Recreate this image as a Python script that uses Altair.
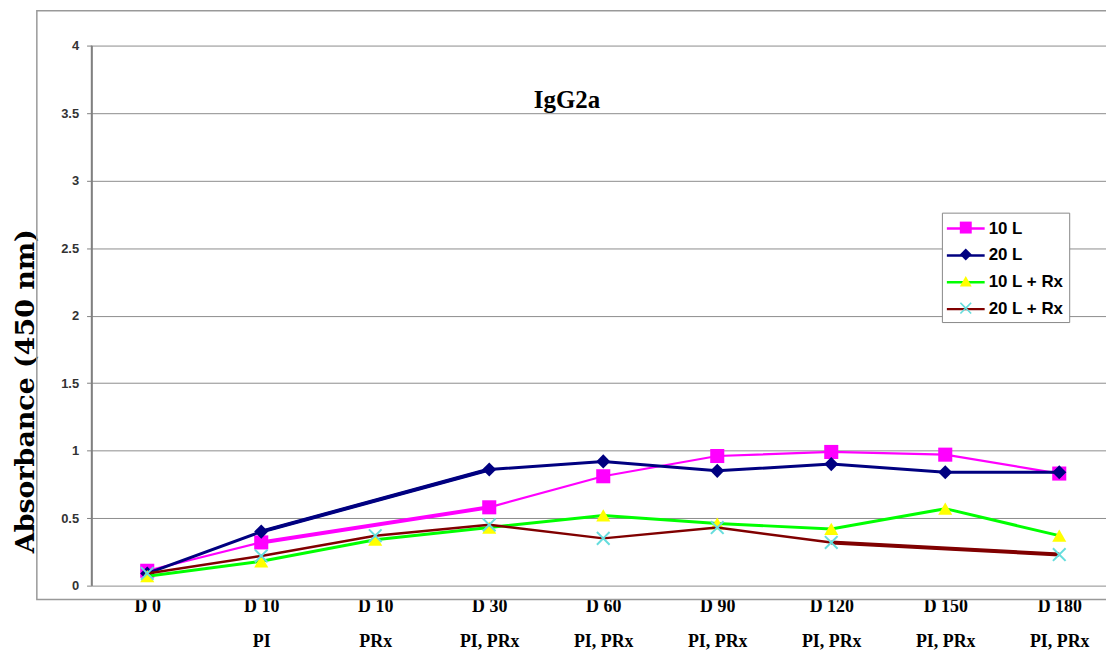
import altair as alt
import pandas as pd

# ---------------- data ----------------
categories = ["D 0|", "D 10|PI", "D 10|PRx", "D 30|PI, PRx", "D 60|PI, PRx",
              "D 90|PI, PRx", "D 120|PI, PRx", "D 150|PI, PRx", "D 180|PI, PRx"]
series_names = ["10 L", "20 L", "10 L + Rx", "20 L + Rx"]
values_10L = [0.11, 0.32, None, 0.58, 0.81, 0.96, 0.99, 0.97, 0.83]
values_20L = [0.09, 0.40, None, 0.86, 0.92, 0.85, 0.90, 0.84, 0.84]
values_10LRx = [0.07, 0.18, 0.34, 0.43, 0.52, 0.46, 0.42, 0.57, 0.37]
values_20LRx = [0.09, 0.22, 0.37, 0.45, 0.35, 0.43, 0.32, None, 0.23]
series_values = [values_10L, values_20L, values_10LRx, values_20LRx]
y_ticks = [0, 0.5, 1, 1.5, 2, 2.5, 3, 3.5, 4]
chart_label = "IgG2a"
y_title = "Absorbance (450 nm)"

# ---------------- styles ----------------
line_colors = ["#FF00FF", "#000080", "#00FF00", "#800000"]
marker_colors = ["#FF00FF", "#000080", "#FFFF00", "#66DDDD"]
line_widths = [2.2, 3.0, 3.0, 2.5]
bridge_width = 4.0
X_PATH = ("M-1,-0.8L-0.8,-1L0,-0.2L0.8,-1L1,-0.8L0.2,0L1,0.8L0.8,1"
          "L0,0.2L-0.8,1L-1,0.8L-0.2,0Z")
marker_shapes = ["square", "diamond", "triangle-up", X_PATH]
marker_keys = ["m " + s for s in series_names]

rows, bridge_rows = [], []
for name, key, vals in zip(series_names, marker_keys, series_values):
    idx = [i for i, v in enumerate(vals) if v is not None]
    for i in idx:
        rows.append({"cat": categories[i], "idx": i, "series": name,
                     "marker": key, "value": vals[i]})
    for a, b in zip(idx, idx[1:]):
        if b - a > 1:
            for k in (a, b):
                bridge_rows.append({"cat": categories[k], "idx": k, "series": name,
                                    "value": vals[k], "seg": f"{name}-{a}"})
df = pd.DataFrame(rows)
bdf = pd.DataFrame(bridge_rows)

W, H = 1020, 543

x_enc = alt.X("cat:N",
              scale=alt.Scale(type="point", domain=categories, padding=0.4493, align=0.5437),
              axis=alt.Axis(title=None, domain=False, ticks=False, grid=False,
                            labelExpr="split(datum.label, '|')",
                            labelFont="Liberation Serif", labelFontWeight="bold",
                            labelFontSize=18, labelLineHeight=35, labelBaseline="top",
                            labelPadding=12, labelAngle=0, labelColor="black",
                            labelOverlap=False, labelFlush=False, labelBound=False))
y_enc = alt.Y("value:Q",
              scale=alt.Scale(domain=[0, 4], nice=False, zero=True),
              axis=alt.Axis(values=y_ticks, format="~g", title=y_title,
                            titleFont="DejaVu Serif", titleFontSize=27,
                            titleFontWeight="bold", titleColor="black",
                            titleAngle=270, titleX=-66, titleY=347,
                            titleAlign="center", titleBaseline="middle",
                            grid=True, gridColor="#8c8c8c", gridWidth=1,
                            domain=True, domainColor="#808080", domainWidth=1.5,
                            tickColor="#808080", tickSize=5, tickWidth=1,
                            labelFont="Liberation Sans", labelFontWeight="bold",
                            labelFontSize=13, labelColor="#333333", labelPadding=8))

line_legend = alt.Legend(title=None, orient="none", legendX=855, legendY=168,
                         symbolType="M-2,0H2", symbolSize=361, symbolStrokeWidth=2.5,
                         symbolOffset=8, labelOffset=12,
                         labelFont="Liberation Sans", labelFontWeight="bold",
                         labelFontSize=17, labelColor="black", labelLimit=300,
                         rowPadding=8, padding=5,
                         strokeColor="#888888", fillColor="white")
marker_legend = alt.Legend(title=None, orient="none", legendX=855, legendY=170,
                           symbolSize=144, symbolStrokeWidth=0, symbolOffset=11,
                           labelExpr="''", labelFontSize=16, labelLimit=300,
                           rowPadding=11, padding=5)

color_enc = alt.Color("series:N", scale=alt.Scale(domain=series_names, range=line_colors),
                      legend=line_legend)
fill_enc = alt.Fill("marker:N", scale=alt.Scale(domain=marker_keys, range=marker_colors),
                    legend=marker_legend)
shape_enc = alt.Shape("marker:N", scale=alt.Scale(domain=marker_keys, range=marker_shapes),
                      legend=marker_legend)

one = pd.DataFrame({"f": [0]})
frame = alt.Chart(one).mark_rect(
    fillOpacity=0, stroke="#999999", strokeWidth=1.5
).encode(x=alt.value(-55), x2=alt.value(W + 40), y=alt.value(-35), y2=alt.value(557))

y_domain = alt.Chart(one).mark_rule(color="#808080", strokeWidth=1.5).encode(
    x=alt.value(0), y=alt.value(0), y2=alt.value(H))

title_txt = alt.Chart(pd.DataFrame({"t": [chart_label]})).mark_text(
    font="Liberation Serif", fontWeight="bold", fontSize=25, color="black",
    align="center", baseline="alphabetic"
).encode(text="t:N", x=alt.value(478), y=alt.value(63))

layers = [frame, title_txt]
for name, lw in zip(series_names, line_widths):
    sub = df[df["series"] == name]
    layers.append(alt.Chart(sub).mark_line(strokeWidth=lw).encode(
        x=x_enc, y=y_enc, color=color_enc, order=alt.Order("idx:Q")))
    bsub = bdf[bdf["series"] == name] if len(bdf) else bdf
    if len(bsub):
        layers.append(alt.Chart(bsub).mark_line(strokeWidth=bridge_width).encode(
            x=x_enc, y=y_enc, color=color_enc, detail="seg:N", order=alt.Order("idx:Q")))
    layers.append(alt.Chart(sub).mark_point(filled=True, size=200, opacity=1, strokeWidth=0).encode(
        x=x_enc, y=y_enc, fill=fill_enc, shape=shape_enc))
layers.append(y_domain)

chart = alt.layer(*layers).properties(
    width=W, height=H,
    padding={"left": 84, "top": 36, "right": 0, "bottom": 70},
    autosize=alt.AutoSizeParams(type="none"),
    background="white",
).configure_view(stroke=None)

chart.save("out.html", embed_options={"renderer": "svg", "actions": False})
